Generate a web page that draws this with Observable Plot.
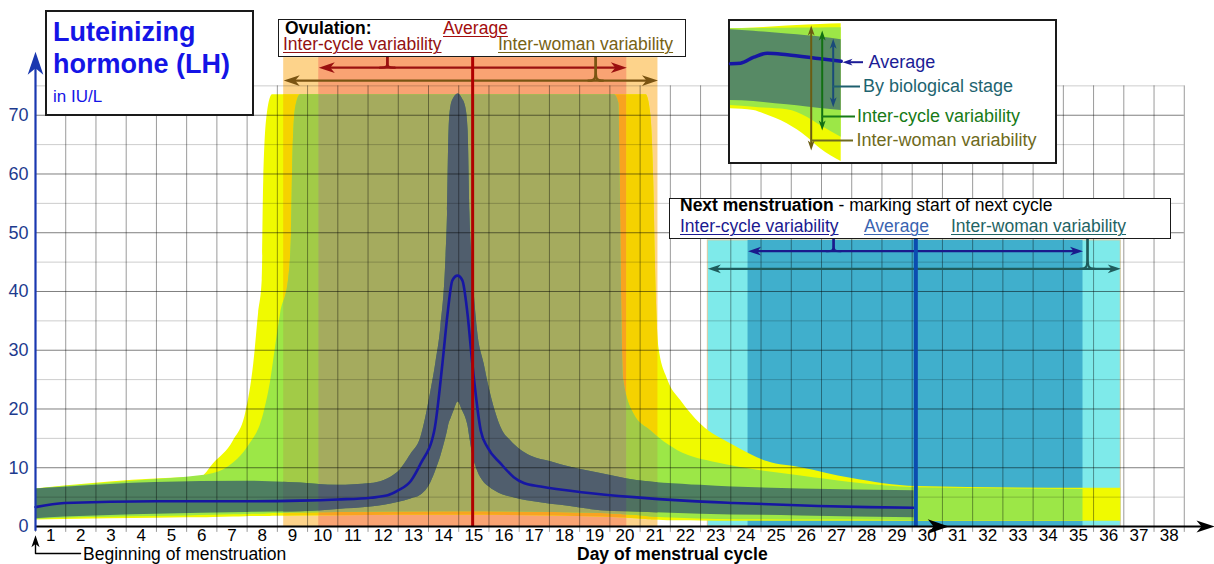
<!DOCTYPE html>
<html><head><meta charset="utf-8">
<script src="https://cdn.jsdelivr.net/npm/d3@7"></script>
<script src="https://cdn.jsdelivr.net/npm/@observablehq/plot@0.6"></script>
<style>
html,body{margin:0;padding:0;background:#fff;overflow:hidden;}
#wrap{position:relative;width:1214px;height:564px;font-family:"Liberation Sans",Arial,sans-serif;}
#wrap > svg{position:absolute;left:0;top:0;}
.box{position:absolute;background:#fff;border:2px solid #1a1a1a;box-sizing:border-box;}
.t{position:absolute;line-height:0.85;white-space:nowrap;font-size:18px;}
.u{text-decoration:underline;text-decoration-thickness:1px;text-underline-offset:2px;}
</style></head>
<body><div id="wrap"></div>
<script>
// ---------------- data ----------------
const days = [1,2,3,4,5,6,7,8,9,10,11,12,13,14,15,16,17,18,19,20,21,22,23,24,25,26,27,28,29,30,31,32,33,34,35,36,37,38];
const gridDays = [0, ...days];
const yTicks = [0,10,20,30,40,50,60,70];
const yMinorTicks = [5,15,25,35,45,55,65,75];

// average LH level [day, IU/L]
const lhAverage = [[0,3.3],[0.96,4.0],[3.97,4.3],[6.98,4.3],[8.77,4.4],[10.0,4.6],[11.09,4.9],[11.65,5.3],[11.98,6.1],[12.42,7.8],[12.74,10.7],[13.19,16.3],[13.46,27.7],[13.63,36.2],[13.79,41.9],[13.96,42.7],[14.12,41.9],[14.29,36.2],[14.45,27.7],[14.73,16.3],[14.95,13.5],[15.39,10.7],[15.82,8.4],[16.15,7.4],[16.71,6.8],[18.14,5.8],[19.79,5.0],[21.45,4.4],[23.10,4.0],[25.88,3.5],[27.54,3.3],[29.06,3.2]];
// variability by biological stage [day, low, high]
const stageBand = [[0,1.3,6.4],[0.96,1.6,6.7],[3.97,2.1,7.5],[6.98,2.4,7.7],[8.77,2.5,7.4],[10.0,2.9,7.0],[11.09,3.3,7.3],[11.98,4.1,9.2],[12.42,4.7,12.3],[12.74,5.3,15.0],[13.08,7.5,23.0],[13.24,9.5,27.7],[13.41,12.0,34.0],[13.57,15.0,44.8],[13.63,16.3,53.3],[13.68,17.5,67.4],[13.74,18.3,71.4],[13.85,19.8,73.0],[13.98,21.2,73.6],[14.12,19.8,72.8],[14.23,18.5,71.4],[14.31,17.0,67.4],[14.37,15.0,53.3],[14.45,12.5,44.8],[14.62,9.5,33.4],[14.84,7.5,27.7],[14.99,6.8,24.0],[15.45,5.4,16.3],[15.72,5.0,14.6],[16.05,4.6,13.0],[16.38,4.3,12.0],[17.05,3.8,11.0],[17.38,3.6,10.5],[18.70,2.7,9.0],[19.58,2.5,8.1],[22.01,2.1,7.0],[25.32,1.8,6.4],[29.06,1.5,6.1]];
// inter-cycle variability [day, low, high]
const cycleBand = [[0,1.2,6.4],[0.96,1.4,6.8],[3.97,1.7,8.0],[5.0,1.8,8.4],[5.89,1.9,9.0],[6.57,2.0,10.9],[7.02,2.05,13.5],[7.55,2.1,19.2],[7.78,2.15,24.8],[7.94,2.2,30.5],[8.11,2.2,36.3],[8.37,2.25,41.9],[8.47,2.3,50.0],[8.52,2.3,64.0],[8.61,2.3,71.4],[8.77,2.3,73.5],[10.0,2.4,73.5],[14.0,2.5,73.5],[18.7,2.2,73.5],[19.15,2.1,73.5],[19.30,2.1,72.0],[19.34,2.1,60.0],[19.38,2.05,41.9],[19.46,2.0,24.9],[19.79,1.9,19.2],[20.35,1.6,16.3],[21.25,1.4,12.9],[22.57,1.2,10.8],[23.99,1.15,9.5],[25.32,1.1,8.6],[26.97,1.1,7.5],[29.16,1.0,6.6],[34.65,1.0,6.3]];
// inter-woman variability [day, low, high]
const womanBand = [[0,1.1,6.4],[0.96,1.2,6.9],[3.97,1.4,8.1],[5.0,1.5,8.3],[5.46,1.5,8.4],[5.89,1.55,10.7],[6.55,1.6,14.6],[6.95,1.65,19.2],[7.22,1.7,27.7],[7.38,1.7,36.3],[7.50,1.7,41.9],[7.55,1.7,58.9],[7.67,1.7,70.3],[7.84,1.75,73.5],[10.0,1.85,73.5],[14.0,1.9,73.5],[18.7,1.6,73.5],[20.2,1.2,73.5],[20.35,1.15,70.3],[20.45,1.1,58.9],[20.52,1.1,41.9],[20.62,1.05,30.5],[20.92,1.0,24.9],[21.35,1.0,21.4],[22.01,0.95,17.4],[23.10,0.9,13.8],[24.23,0.9,11.0],[25.32,0.9,10.0],[26.97,0.9,8.2],[29.16,0.9,6.8],[34.65,0.9,6.5],[35.9,0.9,6.5]];

// ovulation and next menstruation (days)
const ovulationAverage = 14.46;
const ovulationCycleRange = [9.37, 19.56];
const ovulationWomanRange = [8.21, 20.59];
const ovulationBraces = [11.64, 18.53];
const menstruationAverage = 29.12;
const menstruationCycleRange = [23.57, 34.65];
const menstruationWomanRange = [22.24, 35.9];
const menstruationBraces = [26.4, 34.8];
const cycleEndArrow = 30.21;

// inset legend (local units)
const insetX = [2, 25.3, 35.3, 58.7, 78.7, 92, 112.7];
const insetWomanTop = [9.3, 8.6, 8.0, 6.5, 5.5, 5.0, 4.3];
const insetWomanBottom = [89.3, 91, 94.3, 104.3, 117.7, 129.3, 142];
const insetCycleTop = [9.3, 9.0, 8.9, 8.7, 8.5, 8.4, 8.3];
const insetCycleBottom = [86, 87.7, 88.5, 90.3, 97.7, 106, 117.7];
const insetStageTop = [10.3, 11.8, 12.6, 14.5, 16.2, 17.5, 20.3];
const insetStageBottom = [81, 82, 83, 85.3, 87.5, 89, 91];
const insetAvgX = [2, 12, 25.3, 38.7, 58.7, 92, 112.7];
const insetAvgY = [44.3, 43.7, 37.7, 33.7, 35.3, 39.3, 41.7];

// ---------------- layout / style ----------------
const X_MAX = 39, Y_MAX = 89.53;
const LV = {ovRectTop: 79.8, ovBoxBottom: 80.0, ovCycleY: 78.1, ovWomanY: 75.9, ovLineTop: 83.6,
            mRectTop: 48.7, mBoxBottom: 49.0, mCycleY: 46.86, mWomanY: 43.86};
const C = {
  woman: "#f0fa00", cycle: "#9ce747", stage: "#4e7f61",
  womanL: "#f5d200", cycleL: "#a2cb47", stageL: "#4f7160",
  womanS: "#f8a320", cycleS: "#a5ab5e", stageS: "#505e6d",
  ovLight: "#fdd38b", ovSalmon: "#f9a373", cyanLight: "#7eeaea", cyanDark: "#40afcc",
  avg: "#1616a3", ovRed: "#b00000", mBlue: "#0b4db0",
  ovCycleArrow: "#9a1010", ovWomanArrow: "#7a5412", mCycleArrow: "#1a1a8c", mWomanArrow: "#1f5c5c",
  yAxis: "#1a38b0", yLabel: "#1d3b8e"
};

const arrowHead = { draw(context, size) { const l = Math.sqrt(size), w = 0.34 * l;
  context.moveTo(0, 0); context.lineTo(-l, -w); context.lineTo(-0.72 * l, 0); context.lineTo(-l, w); context.closePath(); } };
function head(x, y, angle, len, color) {
  return Plot.dot([{x, y}], {x: "x", y: "y", r: len / 1.772, symbol: arrowHead, rotate: angle, fill: color, stroke: "none"});
}
function hDoubleArrow(range, y, color, len, sw) {
  return [Plot.ruleY([y], {x1: () => range[0], x2: () => range[1], stroke: color, strokeWidth: sw, insetLeft: len * 0.6, insetRight: len * 0.6}),
          head(range[0], y, 180, len, color), head(range[1], y, 0, len, color)];
}
function brace(bx, y, top, color, sw) {
  const dx = 0.24, mid = y + (top - y) * 0.45;
  const pts = [{x: bx - dx, y, k: 0}, {x: bx, y, k: 0}, {x: bx, y: mid, k: 0}, {x: bx, y: top, k: 0},
               {x: bx + dx, y, k: 1}, {x: bx, y, k: 1}, {x: bx, y: mid, k: 1}, {x: bx, y: top, k: 1}];
  return Plot.line(pts, {x: "x", y: "y", z: "k", curve: "basis", stroke: color, strokeWidth: sw});
}
const band = (data, fill) => Plot.areaY(data, {x: d => d[0], y1: d => d[1], y2: d => d[2], fill, curve: "monotone-x"});
const rangeRect = (range, top, fill, extra = {}) => Plot.rect([range], {x1: d => d[0], x2: d => d[1], y1: () => 0, y2: () => top, fill, ...extra});

const main = Plot.plot({
  width: 1214, height: 564, marginLeft: 35, marginRight: 0, marginTop: 0, marginBottom: 38,
  x: {domain: [0, X_MAX], axis: null},
  y: {domain: [0, Y_MAX], axis: null},
  style: {fontFamily: "Liberation Sans, Arial, sans-serif", background: "transparent", overflow: "visible"},
  marks: [
    rangeRect(menstruationWomanRange, LV.mRectTop, C.cyanLight, {stroke: "#d9c9a0", strokeWidth: 1}),
    rangeRect(menstruationCycleRange, LV.mRectTop, C.cyanDark),
    rangeRect(ovulationWomanRange, LV.ovRectTop, C.ovLight),
    rangeRect(ovulationCycleRange, LV.ovRectTop, C.ovSalmon),
    // bands: normal colour, then tinted copies for the ovulation windows (clipped below)
    band(womanBand, C.woman), band(womanBand, C.womanL), band(womanBand, C.womanS),
    band(cycleBand, C.cycle), band(cycleBand, C.cycleL), band(cycleBand, C.cycleS),
    band(stageBand, C.stage), band(stageBand, C.stageL), band(stageBand, C.stageS),
    // grid
    Plot.ruleX(gridDays, {y1: () => -1, y2: () => 75, stroke: "#000", strokeOpacity: 0.4, strokeWidth: 1}),
    Plot.ruleY(yMinorTicks, {x1: () => 0, x2: () => 38, stroke: "#000", strokeOpacity: 0.2, strokeWidth: 1}),
    Plot.ruleY(yTicks, {x1: () => 0, x2: () => 38, stroke: "#000", strokeOpacity: 0.5, strokeWidth: 1}),
    // average curve
    Plot.line(lhAverage, {x: d => d[0], y: d => d[1], stroke: C.avg, strokeWidth: 2.6, curve: "monotone-x"}),
    // ovulation annotations
    ...hDoubleArrow(ovulationCycleRange, LV.ovCycleY, C.ovCycleArrow, 16, 2.4),
    brace(ovulationBraces[0], LV.ovCycleY, LV.ovBoxBottom, C.ovCycleArrow, 2.4),
    ...hDoubleArrow(ovulationWomanRange, LV.ovWomanY, C.ovWomanArrow, 16, 2.4),
    brace(ovulationBraces[1], LV.ovWomanY, LV.ovBoxBottom, C.ovWomanArrow, 2.4),
    Plot.ruleX([ovulationAverage], {y1: () => 0, y2: () => LV.ovLineTop, stroke: C.ovRed, strokeWidth: 3}),
    // next menstruation annotations
    ...hDoubleArrow(menstruationCycleRange, LV.mCycleY, C.mCycleArrow, 13, 2.2),
    brace(menstruationBraces[0], LV.mCycleY, LV.mBoxBottom, C.mCycleArrow, 2.2),
    ...hDoubleArrow(menstruationWomanRange, LV.mWomanY, C.mWomanArrow, 13, 2.2),
    brace(menstruationBraces[1], LV.mWomanY, LV.mBoxBottom, C.mWomanArrow, 2.2),
    Plot.ruleX([menstruationAverage], {y1: () => 0, y2: () => LV.mBoxBottom, stroke: C.mBlue, strokeWidth: 4}),
    // axes
    Plot.ruleY([0], {x1: () => 0, x2: () => X_MAX - 0.4, stroke: "#000", strokeWidth: 2}),
    head(X_MAX, 0, 0, 18, "#000"),
    head(cycleEndArrow, 0, 0, 21, "#000"),
    Plot.ruleX([0], {y1: () => -0.8, y2: () => 79.5, stroke: C.yAxis, strokeWidth: 2.2}),
    head(0, 80.8, -90, 23, C.yAxis),
    Plot.line([[1.49, -4.6], [0, -4.6], [0, -2.4]], {x: d => d[0], y: d => d[1], stroke: "#000", strokeWidth: 1.4}),
    head(0, -1.5, -90, 12, "#000"),
    Plot.text(days, {x: d => d - 0.5, y: () => 0, text: d => String(d), dy: 9.5, fontSize: 17, fill: "#000"}),
    Plot.text(yTicks, {x: () => 0, y: d => d, text: d => String(d), dx: -7, textAnchor: "end", fontSize: 18, fill: C.yLabel})
  ]
});

// tint the bands inside the ovulation windows
(function () {
  const xs = main.scale("x");
  const toPx = xs.apply ? (v => xs.apply(v)) : d3.scaleLinear(xs.domain, xs.range);
  const ns = "http://www.w3.org/2000/svg";
  const defs = document.createElementNS(ns, "defs");
  function makeClip(id, ranges) {
    const cp = document.createElementNS(ns, "clipPath"); cp.setAttribute("id", id);
    for (const [a, b] of ranges) {
      const r = document.createElementNS(ns, "rect");
      r.setAttribute("x", toPx(a)); r.setAttribute("width", toPx(b) - toPx(a));
      r.setAttribute("y", -10); r.setAttribute("height", 600); cp.appendChild(r);
    }
    defs.appendChild(cp);
  }
  makeClip("clipLight", [[ovulationWomanRange[0], ovulationCycleRange[0]], [ovulationCycleRange[1], ovulationWomanRange[1]]]);
  makeClip("clipSalmon", [ovulationCycleRange]);
  main.insertBefore(defs, main.firstChild);
  const areas = main.querySelectorAll('g[aria-label="area"]');
  [1, 4, 7].forEach(i => areas[i] && areas[i].setAttribute("clip-path", "url(#clipLight)"));
  [2, 5, 8].forEach(i => areas[i] && areas[i].setAttribute("clip-path", "url(#clipSalmon)"));
})();

const wrap = document.getElementById("wrap");
wrap.appendChild(main);

// annotation boxes and texts
const boxes = [
  {left: 45, top: 10, w: 209, h: 106, bw: 2},
  {left: 278, top: 19, w: 408, h: 38, bw: 1.5},
  {left: 669, top: 198, w: 502, h: 41, bw: 1.5},
  {left: 728, top: 19, w: 329, h: 145, bw: 2}
];
for (const b of boxes) {
  const d = document.createElement("div"); d.className = "box";
  Object.assign(d.style, {left: b.left + "px", top: b.top + "px", width: b.w + "px", height: b.h + "px", borderWidth: b.bw + "px"});
  wrap.appendChild(d);
}
const labels = [
  {text: "Luteinizing", left: 53, base: 42, size: 27, bold: true, color: "#1414e6"},
  {text: "hormone (LH)", left: 53, base: 74, size: 27, bold: true, color: "#1414e6"},
  {text: "in IU/L", left: 53, base: 103, size: 17, color: "#1414e6"},
  {text: "Ovulation:", left: 285, base: 34.5, size: 17.5, bold: true, color: "#000"},
  {text: "Average", left: 443, base: 34.5, size: 17.5, color: "#a30d0d", u: true},
  {text: "Inter-cycle variability", left: 283, base: 51, size: 17.5, color: "#931111", u: true},
  {text: "Inter-woman variability", left: 498, base: 51, size: 17.5, color: "#776214", u: true},
  {html: "<b>Next menstruation</b> - marking start of next cycle", left: 680, base: 212, size: 17.5, color: "#000"},
  {text: "Inter-cycle variability", left: 680, base: 233, size: 17.5, color: "#1a1a90", u: true},
  {text: "Average", left: 864, base: 233, size: 17.5, color: "#3a64b0", u: true},
  {text: "Inter-woman variability", left: 951, base: 233, size: 17.5, color: "#1f6464", u: true},
  {text: "Day of menstrual cycle", left: 577, base: 560.5, size: 17.5, bold: true, color: "#000"},
  {text: "Beginning of menstruation", left: 83, base: 560.5, size: 17.5, color: "#000"}
];
// with line-height 0.85 the baseline sits 0.7715em below the top of the line box
for (const L of labels) {
  const d = document.createElement("div"); d.className = "t" + (L.u ? " u" : "");
  const fs = L.size || 18;
  Object.assign(d.style, {left: L.left + "px", top: (L.base - 0.7715 * fs) + "px", fontSize: fs + "px", color: L.color, fontWeight: L.bold ? "bold" : "normal"});
  if (L.html) d.innerHTML = L.html; else d.textContent = L.text;
  wrap.appendChild(d);
}

// inset legend
const insetRows = insetX.map((x, i) => ({x, wt: insetWomanTop[i], wb: insetWomanBottom[i], ct: insetCycleTop[i], cb: insetCycleBottom[i], st: insetStageTop[i], sb: insetStageBottom[i]}));
const insetAvg = insetAvgX.map((x, i) => ({x, y: insetAvgY[i]}));
function vDoubleArrow(x, y1, y2, color, len, sw) {
  return [Plot.ruleX([x], {y1: () => y1, y2: () => y2, stroke: color, strokeWidth: sw, insetTop: len * 0.6, insetBottom: len * 0.6}),
          head(x, y1, -90, len, color), head(x, y2, 90, len, color)];
}
const insetText = [
  {t: "Average", x: 140, y: 42.7, c: "#1c1c96"},
  {t: "By biological stage", x: 134.5, y: 67, c: "#1e6470"},
  {t: "Inter-cycle variability", x: 128.5, y: 97, c: "#177a17"},
  {t: "Inter-woman variability", x: 128, y: 121, c: "#6e6a20"}
];
const inset = Plot.plot({
  width: 329, height: 145, margin: 0,
  x: {domain: [0, 329], range: [0, 329], axis: null},
  y: {domain: [0, 145], range: [0, 145], axis: null},
  style: {fontFamily: "Liberation Sans, Arial, sans-serif", background: "transparent", overflow: "visible"},
  marks: [
    Plot.areaY(insetRows, {x: "x", y1: "wt", y2: "wb", fill: C.woman, curve: "monotone-x"}),
    Plot.areaY(insetRows, {x: "x", y1: "ct", y2: "cb", fill: C.cycle, curve: "monotone-x"}),
    Plot.areaY(insetRows, {x: "x", y1: "st", y2: "sb", fill: "#578a65", curve: "monotone-x"}),
    Plot.line(insetAvg, {x: "x", y: "y", stroke: C.avg, strokeWidth: 3.5, curve: "monotone-x"}),
    ...vDoubleArrow(82.7, 6, 131, "#6b5c12", 10, 2),
    ...vDoubleArrow(93.7, 11, 111, "#127012", 10, 2),
    ...vDoubleArrow(104.7, 19.3, 87.7, "#1a4a7a", 10, 2),
    Plot.ruleY([42.7], {x1: () => 114, x2: () => 135, stroke: "#1c1c96", strokeWidth: 2, insetLeft: 6}),
    head(114, 42.7, 180, 10, "#1c1c96"),
    Plot.ruleY([67], {x1: () => 104.7, x2: () => 132, stroke: "#1e5f6e", strokeWidth: 2}),
    Plot.ruleY([97], {x1: () => 93.7, x2: () => 127, stroke: "#177a17", strokeWidth: 2}),
    Plot.ruleY([121], {x1: () => 82.7, x2: () => 125, stroke: "#6e6a20", strokeWidth: 2}),
    Plot.text(insetText, {x: "x", y: "y", text: "t", fill: "c", textAnchor: "start", fontSize: 18})
  ]
});
inset.style.position = "absolute"; inset.style.left = "728px"; inset.style.top = "19px";
wrap.appendChild(inset);
</script></body></html>
